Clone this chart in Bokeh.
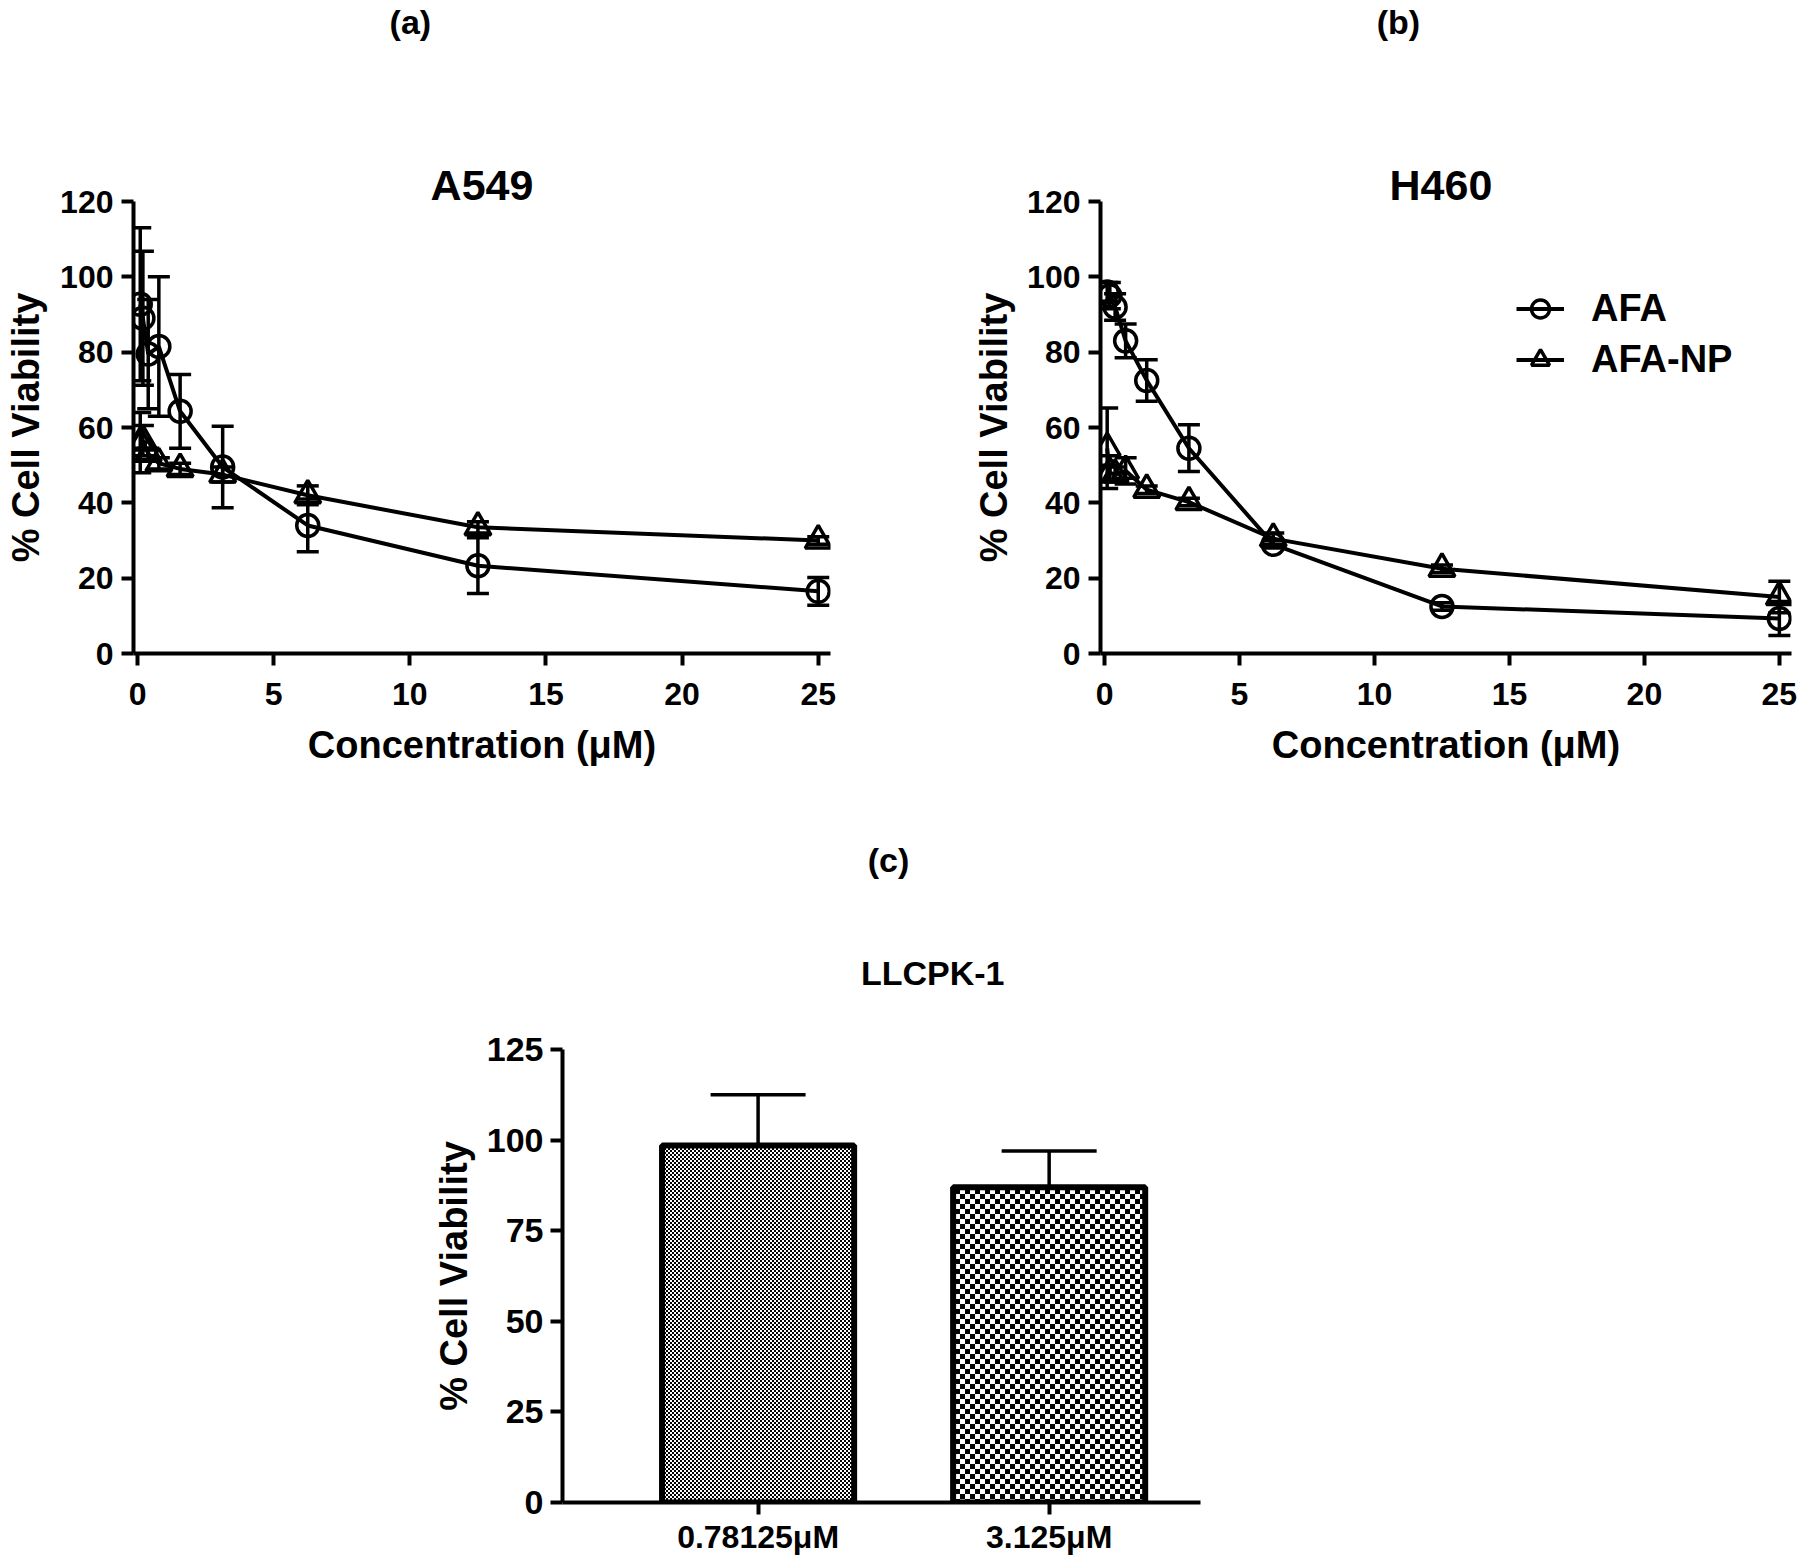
import math, zlib, struct, base64
from bokeh.plotting import figure
from bokeh.layouts import column, row
from bokeh.models import (Range1d, FixedTicker, Whisker, TeeHead, ColumnDataSource,
                          Label, Legend, LegendItem, ImageURLTexture, Title)
from bokeh.core.properties import field
from bokeh.embed import file_html
from bokeh.resources import INLINE

# ---------------- data ----------------
conc = [0.09765625, 0.1953125, 0.390625, 0.78125, 1.5625, 3.125, 6.25, 12.5, 25]

a549_afa = [92.7, 89.0, 79.5, 81.5, 64.3, 49.5, 34.0, 23.3, 16.5]
a549_afa_err = [20.3, 17.8, 14.5, 18.5, 9.8, 10.8, 7.0, 7.4, 3.7]
a549_np = [56.0, 56.5, 53.0, 50.5, 49.0, 47.5, 42.0, 33.5, 30.0]
a549_np_err = [8.0, 4.0, 1.5, 1.5, 1.5, 2.0, 2.5, 1.5, 1.0]

h460_afa = [96.0, 95.0, 92.0, 83.0, 72.5, 54.5, 29.0, 12.5, 9.3]
h460_afa_err = [2.5, 3.5, 3.5, 4.5, 5.5, 6.2, 1.0, 1.0, 4.5]
h460_np = [54.5, 48.0, 47.5, 48.5, 43.5, 40.2, 30.5, 22.5, 15.0]
h460_np_err = [10.7, 2.0, 2.0, 3.5, 1.0, 1.0, 1.5, 1.0, 4.2]

x_ticks = [0, 5, 10, 15, 20, 25]
y_ticks = [0, 20, 40, 60, 80, 100, 120]

bar_cats = ["0.78125\u03bcM", "3.125\u03bcM"]
bar_vals = [98.5, 87.0]
bar_err = [14.0, 10.0]
bar_y_ticks = [0, 25, 50, 75, 100, 125]
bar_patterns = ["fine", "coarse"]

FONT = "Liberation Sans"


def checker_png(cell):
    n = cell * 2
    raw = b"".join(
        b"\x00" + bytes(0 if ((x // cell) + (y // cell)) % 2 == 0 else 255 for x in range(n))
        for y in range(n))

    def chunk(tag, data):
        c = struct.pack(">I", len(data)) + tag + data
        return c + struct.pack(">I", zlib.crc32(tag + data) & 0xffffffff)

    png = (b"\x89PNG\r\n\x1a\n"
           + chunk(b"IHDR", struct.pack(">IIBBBBB", n, n, 8, 0, 0, 0, 0))
           + chunk(b"IDAT", zlib.compress(raw))
           + chunk(b"IEND", b""))
    return "data:image/png;base64," + base64.b64encode(png).decode()


def style_axes(p, tick_size="32px"):
    for ax in (p.xaxis[0], p.yaxis[0]):
        ax.axis_line_width = 4
        ax.axis_line_color = "black"
        ax.major_tick_line_width = 4
        ax.major_tick_line_color = "black"
        ax.major_tick_out = 12
        ax.major_tick_in = 0
        ax.minor_tick_line_color = None
        ax.major_label_text_font = FONT
        ax.major_label_text_font_style = "bold"
        ax.major_label_text_font_size = tick_size
        ax.major_label_text_color = "black"
        ax.axis_label_text_font = FONT
        ax.axis_label_text_font_style = "bold"
        ax.axis_label_text_font_size = "38px"
        ax.axis_label_text_color = "black"
    p.xgrid.visible = False
    p.ygrid.visible = False
    p.outline_line_color = None


def title_fig(x_range, width, height, bl, br):
    t = figure(width=width, height=height, x_range=x_range, y_range=Range1d(0, height),
               x_axis_type=None, y_axis_type=None, output_backend="svg",
               toolbar_location=None, title=None, min_border_left=bl, min_border_right=br,
               min_border_top=0, min_border_bottom=0)
    t.xgrid.visible = False
    t.ygrid.visible = False
    t.outline_line_color = None
    return t


def add_text(p, text, x, y, size):
    p.add_layout(Label(x=x, y=y, text=text, text_font=FONT, text_font_style="bold",
                       text_font_size=size, text_color="black", text_align="center",
                       text_baseline="middle"))


def curve_panel(name, letter, afa, afa_err, anp, anp_err, width, bl, br, x_end,
                letter_x, ylab_standoff, title_align="center", title_offset=0, legend_loc=None):
    xr = Range1d(-0.15, x_end)
    p = figure(width=width, height=643, x_range=xr, y_range=Range1d(0, 120),
               output_backend="svg", toolbar_location=None, title=None,
               min_border_left=bl, min_border_right=br, min_border_top=51, min_border_bottom=140)
    p.add_layout(Title(text=name, align=title_align, offset=title_offset,
                       vertical_align="bottom", standoff=-14,
                       text_font=FONT, text_font_style="bold", text_font_size="43px",
                       text_color="black"), "above")
    style_axes(p)
    p.xaxis.ticker = FixedTicker(ticks=x_ticks)
    p.yaxis.ticker = FixedTicker(ticks=y_ticks)
    p.xaxis.axis_label = "Concentration (\u03bcM)"
    p.xaxis.major_label_standoff = 17
    p.xaxis.axis_label_standoff = 16
    p.yaxis.axis_label = "% Cell Viability"
    p.yaxis.major_label_standoff = 8
    p.yaxis.axis_label_standoff = ylab_standoff

    rends = []
    for vals, errs, marker, msize in ((afa, afa_err, "circle", 22), (anp, anp_err, "triangle", 26)):
        src = ColumnDataSource(dict(x=conc, y=vals,
                                    lo=[v - e for v, e in zip(vals, errs)],
                                    hi=[v + e for v, e in zip(vals, errs)]))
        p.add_layout(Whisker(source=src, base="x", upper="hi", lower="lo", dimension="height",
                             line_width=3.5, line_color="black",
                             upper_head=TeeHead(size=22, line_width=3.5, line_color="black"),
                             lower_head=TeeHead(size=22, line_width=3.5, line_color="black")))
        lr = p.line("x", "y", source=src, line_width=4, line_color="black")
        sr = p.scatter("x", "y", source=src, marker=marker, size=msize, line_width=3.5,
                       line_color="black", fill_alpha=0)
        rends.append((lr, sr))

    if legend_loc is not None:
        leg = Legend(items=[LegendItem(label="AFA", renderers=list(rends[0])),
                            LegendItem(label="AFA-NP", renderers=list(rends[1]))],
                     location=legend_loc, orientation="vertical", padding=0, margin=0,
                     spacing=6, glyph_width=48, glyph_height=45, label_height=45,
                     label_standoff=27, label_text_font=FONT, label_text_font_style="bold",
                     label_text_font_size="38px", label_text_color="black",
                     border_line_color=None, background_fill_alpha=0)
        p.add_layout(leg)

    t = title_fig(xr, width, 150, bl, br)
    add_text(t, letter, letter_x, 129, "34px")
    return t, p


ta, pa = curve_panel("A549", "(a)", a549_afa, a549_afa_err, a549_np, a549_np_err,
                     width=970, bl=133, br=140, x_end=25.45, letter_x=10.02,
                     ylab_standoff=10)
tb, pb = curve_panel("H460", "(b)", h460_afa, h460_afa_err, h460_np, h460_np_err,
                     width=831, bl=127, br=10, x_end=25.45, letter_x=10.95,
                     ylab_standoff=9, title_align="left", title_offset=289,
                     legend_loc=(416, 271))

# ---------------- bar chart ----------------
pos = list(range(len(bar_cats)))
xr_c = Range1d(-0.672, 1.52)
pc = figure(width=1208, height=541, x_range=xr_c, y_range=Range1d(0, 125),
            output_backend="svg", toolbar_location=None, title=None,
            min_border_left=562, min_border_right=8, min_border_top=25, min_border_bottom=63)
style_axes(pc, tick_size="34px")
pc.xaxis.ticker = FixedTicker(ticks=pos)
pc.xaxis.major_label_overrides = {i: c for i, c in zip(pos, bar_cats)}
pc.xaxis.major_label_text_font_size = "32px"
pc.xaxis.major_label_standoff = 4
pc.yaxis.ticker = FixedTicker(ticks=bar_y_ticks)
pc.yaxis.axis_label = "% Cell Viability"
pc.yaxis.major_label_standoff = 7
pc.yaxis.axis_label_standoff = 9

bsrc = ColumnDataSource(dict(x=pos, top=bar_vals, hi=[v + e for v, e in zip(bar_vals, bar_err)],
                             pat=bar_patterns))
textures = {"fine": ImageURLTexture(url=checker_png(2)),
            "coarse": ImageURLTexture(url=checker_png(5))}
pc.vbar(x="x", top="top", width=0.66, source=bsrc, fill_color="white", line_color="black",
        line_width=6, hatch_pattern=field("pat"), hatch_extra=textures)
pc.add_layout(Whisker(source=bsrc, base="x", upper="hi", lower="top", dimension="height",
                      line_width=3.5, line_color="black",
                      upper_head=TeeHead(size=95, line_width=3.5, line_color="black"),
                      lower_head=None))

tc = title_fig(xr_c, 1208, 231, 562, 8)
add_text(tc, "(c)", 0.448, 164.5, "34px")
add_text(tc, "LLCPK-1", 0.6, 51.4, "34px")

layout = column(row(ta, tb), row(pa, pb), tc, pc)
open("out.html", "w").write(file_html(layout, INLINE))
